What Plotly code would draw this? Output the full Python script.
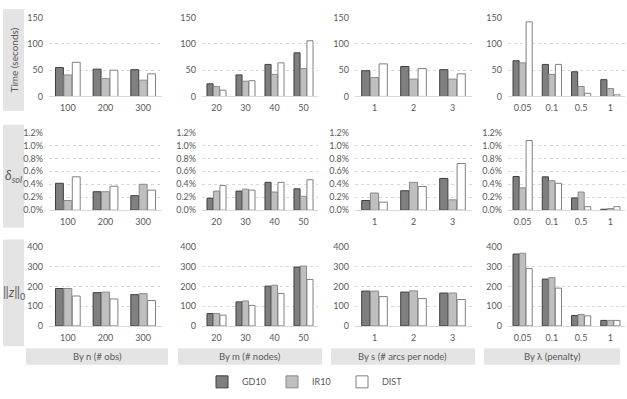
import plotly.graph_objects as go

W, H = 627, 399

methods = ["GD10", "IR10", "DIST"]
fills = ["#7f7f7f", "#bfbfbf", "#ffffff"]
edges = ["#3f3f3f", "#8a8a8a", "#808080"]

n_cats = ["100", "200", "300"]
m_cats = ["20", "30", "40", "50"]
s_cats = ["1", "2", "3"]
lam_cats = ["0.05", "0.1", "0.5", "1"]

# rows of each block: GD10, IR10, DIST
time_n = [[55, 52, 51], [41, 34, 31], [65, 50, 43]]
time_m = [[24, 41, 61, 83], [19, 29, 42, 53], [12, 30, 64, 106]]
time_s = [[49, 57, 51], [36, 33, 33], [62, 53, 43]]
time_lam = [[68, 61, 47, 32], [64, 42, 19, 15], [142, 61, 6, 3]]

gap_n = [[0.00415, 0.00285, 0.00225], [0.0015, 0.00285, 0.0040], [0.00515, 0.0037, 0.0031]]
gap_m = [[0.00185, 0.00295, 0.0043, 0.0033], [0.00295, 0.00325, 0.0028, 0.00215],
         [0.0038, 0.0031, 0.0043, 0.0047]]
gap_s = [[0.0015, 0.0030, 0.0049], [0.00265, 0.0043, 0.0016], [0.00125, 0.00365, 0.0072]]
gap_lam = [[0.0052, 0.00515, 0.0019, 0.00015], [0.00345, 0.00455, 0.0028, 0.00025],
           [0.01075, 0.00415, 0.00055, 0.00055]]

nnz_n = [[190, 169, 159], [190, 172, 164], [152, 137, 129]]
nnz_m = [[63, 122, 202, 299], [63, 127, 207, 304], [55, 104, 165, 236]]
nnz_s = [[177, 172, 167], [177, 178, 167], [149, 139, 134]]
nnz_lam = [[365, 238, 53, 28], [369, 245, 58, 28], [291, 192, 51, 28]]

row_titles = ["Time (seconds)", "<i>δ</i><sub><i>sol</i></sub>", "‖<i>z</i>‖<sub>0</sub>"]
col_titles = ["By n (# obs)", "By m (# nodes)", "By s (# arcs per node)", "By λ (penalty)"]

cats = [n_cats, m_cats, s_cats, lam_cats]
data = [
    [time_n, time_m, time_s, time_lam],
    [gap_n, gap_m, gap_s, gap_lam],
    [nnz_n, nnz_m, nnz_s, nnz_lam],
]
y_ranges = [[0, 150], [0, 0.012], [0, 400]]
y_dticks = [50, 0.002, 100]
y_formats = ["", ".1%", ""]

# pixel layout of the panels
col_px = [(49, 162), (202, 318), (355, 472), (508, 625)]
row_px = [(12, 93), (130, 210), (248, 329)]


def px_x(p):
    return p / W


def px_y(p):
    return 1 - p / H


font = "Lato, 'Open Sans', sans-serif"
txt = "#595959"

fig = go.Figure()
layout = {}
k = 0
for r in range(3):
    for c in range(4):
        k += 1
        xa = "x" if k == 1 else f"x{k}"
        ya = "y" if k == 1 else f"y{k}"
        for i, m in enumerate(methods):
            fig.add_trace(go.Bar(
                x=cats[c], y=data[r][c][i], name=m,
                marker=dict(color=fills[i], line=dict(color=edges[i], width=1)),
                xaxis=xa, yaxis=ya, showlegend=(k == 1),
                legendgroup=m,
            ))
        x0, x1 = col_px[c]
        y0, y1 = row_px[r]
        layout["xaxis" if k == 1 else f"xaxis{k}"] = dict(
            domain=[px_x(x0), px_x(x1)], anchor=ya, type="category",
            showline=True, linecolor="#d9d9d9", linewidth=1,
            showgrid=False, ticks="", ticklabelstandoff=3,
            tickfont=dict(size=9, color=txt, family=font),
        )
        layout["yaxis" if k == 1 else f"yaxis{k}"] = dict(
            domain=[px_y(y1), px_y(y0)], anchor=xa,
            range=y_ranges[r], dtick=y_dticks[r], tickformat=y_formats[r],
            showgrid=True, gridcolor="#d9d9d9", griddash="dot", gridwidth=1,
            zeroline=False, ticks="", ticklabelstandoff=5,
            tickfont=dict(size=9, color=txt, family=font),
        )

shapes = []
annotations = []
box = "#e4e4e4"
row_boxes = [(3, 108), (122, 228), (240, 350)]
for r, (t, b) in enumerate(row_boxes):
    shapes.append(dict(type="rect", xref="paper", yref="paper", layer="below",
                       x0=px_x(3), x1=px_x(24), y0=px_y(b), y1=px_y(t),
                       fillcolor=box, line=dict(width=0)))
    annotations.append(dict(
        xref="paper", yref="paper", x=px_x(13.5), y=px_y((t + b) / 2),
        text=row_titles[r], showarrow=False, textangle=-90 if r == 0 else 0,
        font=dict(size=10 if r == 0 else 13, color=txt, family=font),
        xanchor="center", yanchor="middle",
    ))

col_boxes = [(26, 168), (178, 322), (331, 475), (484, 620)]
for c, (a, b) in enumerate(col_boxes):
    shapes.append(dict(type="rect", xref="paper", yref="paper", layer="below",
                       x0=px_x(a), x1=px_x(b), y0=px_y(369), y1=px_y(352),
                       fillcolor=box, line=dict(width=0)))
    annotations.append(dict(
        xref="paper", yref="paper", x=px_x((a + b) / 2), y=px_y(360.5),
        text=col_titles[c], showarrow=False,
        font=dict(size=9.5, color=txt, family=font),
        xanchor="center", yanchor="middle",
    ))

fig.update_layout(
    **layout,
    width=W, height=H,
    margin=dict(l=0, r=0, t=0, b=0),
    paper_bgcolor="white", plot_bgcolor="white",
    barmode="group", bargap=0.33, bargroupgap=0.06,
    shapes=shapes, annotations=annotations,
    legend=dict(orientation="h", x=px_x(202), y=px_y(386.5),
                xanchor="left", yanchor="middle",
                entrywidth=25, entrywidthmode="pixels",
                font=dict(size=9, color=txt, family=font)),
    font=dict(family=font, color=txt),
)

fig.write_html("out.html", config={"displayModeBar": False},
               post_script="document.body.style.margin = '0';")
